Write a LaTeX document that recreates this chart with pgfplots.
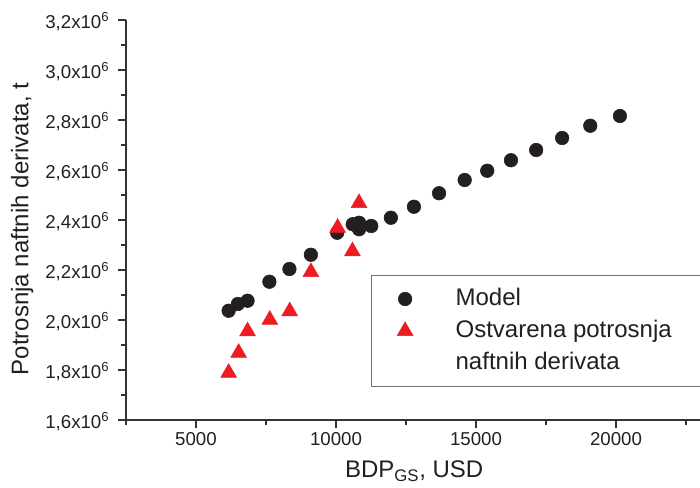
\documentclass[border=0pt]{standalone}
\usepackage{fontspec}
\setmainfont{Liberation Sans}
\usepackage{pgfplots}
\pgfplotsset{compat=1.18}
\definecolor{mblack}{HTML}{231F20}
\definecolor{mred}{HTML}{ED1C24}
\definecolor{axgray}{HTML}{333333}
\definecolor{leggray}{HTML}{707070}
\begin{document}
\begin{tikzpicture}
\useasboundingbox (-94.5pt,-51pt) rectangle (430.5pt,315pt);
\clip (-94.5pt,-51pt) rectangle (430.5pt,315pt);
\begin{axis}[
  scale only axis, width=430.5pt, height=300pt,
  xmin=2500, xmax=23000, ymin=1600000, ymax=3200000,
  scaled x ticks=false, scaled y ticks=false,
  axis lines=left,
  x axis line style={-}, y axis line style={-},
  axis line style={color=axgray, line width=1pt},
  tick align=outside,
  xtick={5000,10000,15000,20000},
  xticklabels={5000,10000,15000,20000},
  minor xtick={2500,7500,12500,17500,22500},
  ytick={1600000,1800000,2000000,2200000,2400000,2600000,2800000,3000000,3200000},
  yticklabels={{1,6x10\textsuperscript{6}},{1,8x10\textsuperscript{6}},{2,0x10\textsuperscript{6}},{2,2x10\textsuperscript{6}},{2,4x10\textsuperscript{6}},{2,6x10\textsuperscript{6}},{2,8x10\textsuperscript{6}},{3,0x10\textsuperscript{6}},{3,2x10\textsuperscript{6}}},
  minor ytick={1700000,1900000,2100000,2300000,2500000,2700000,2900000,3100000},
  major tick length=6pt, minor tick length=3.75pt,
  tick style={color=axgray, line width=0.9pt},
  ticklabel style={font=\fontsize{14}{16}\selectfont, text=mblack},
  yticklabel style={xshift=-3pt, yshift=-1.5pt},
  xlabel={BDP\textsubscript{GS}, USD},
  xlabel style={at={(axis description cs:0.502,-0.145)}, anchor=base, font=\fontsize{18}{21}\selectfont, text=mblack},
  ylabel={Potrosnja naftnih derivata, t},
  ylabel style={at={(axis description cs:-0.181,0.4775)}, anchor=center, font=\fontsize{18}{21}\selectfont, text=mblack},
  legend cell align=left,
  legend style={at={(axis description cs:0.4265,0.3625)}, anchor=north west,
    draw=leggray, line width=1pt, inner xsep=16.7pt, inner ysep=7.5pt,
    font=\fontsize{18}{21}\selectfont, text=mblack,
    nodes={inner sep=0pt, text height=15pt, text depth=5pt},
    row sep=4pt,
    /tikz/every odd column/.append style={column sep=32pt}},
]
\addplot[only marks, mark=*, mblack, mark size=5.1pt, mark options={line width=0.4pt}] coordinates {
(6166,2037000) (6495,2064000) (6842,2077000) (7622,2153000) (8337,2204000)
(9103,2261000) (10043,2349000) (10597,2383000) (10823,2389000) (10823,2363000)
(11259,2376000) (11960,2409000) (12783,2453000) (13681,2507000) (14596,2560000)
(15401,2597000) (16249,2639000) (17149,2680000) (18076,2728000) (19081,2777000)
(20140,2816000)
};
\addlegendentry{\makebox[170pt][l]{Model}}
\addplot[only marks, mark=triangle*, mred, mark size=6.8pt, mark options={line width=0.4pt}] coordinates {
(6166,1789000) (6523,1869000) (6842,1955000) (7636,2001000) (8348,2035000)
(9103,2192000) (10057,2369000) (10587,2275000) (10823,2468000)
};
\addlegendentry{Ostvarena potrosnja}
\addlegendimage{empty legend}
\addlegendentry{naftnih derivata}
\end{axis}
\end{tikzpicture}
\end{document}
